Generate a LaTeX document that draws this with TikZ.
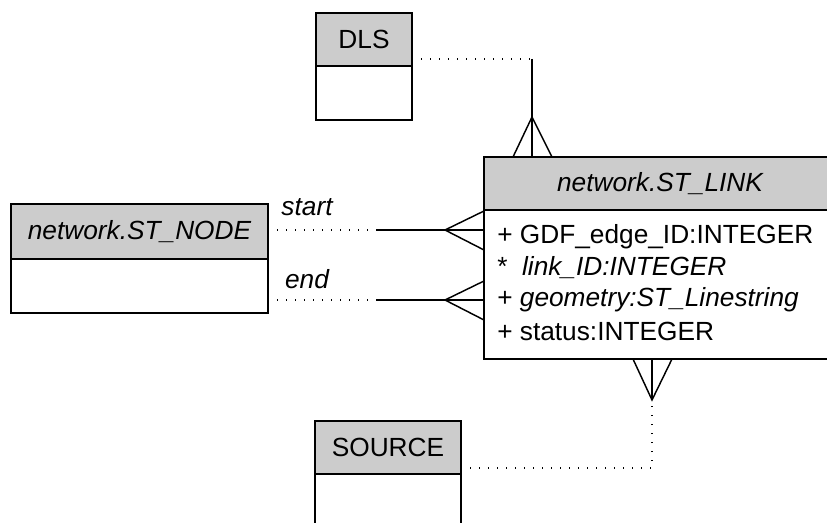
\documentclass[tikz,border=0pt]{standalone}
\usepackage{fontspec}
\setmainfont{Liberation Sans}
\begin{document}
\begin{tikzpicture}[x=0.75pt,y=-0.75pt,
  every node/.style={font=\fontsize{19.7}{23}\selectfont},
  hdr/.style={draw=black, line width=1.1pt, fill=hdrgray, inner sep=0pt, outer sep=0pt, anchor=north west},
  bodybox/.style={draw=black, line width=1.1pt, fill=white, inner sep=0pt, outer sep=0pt, anchor=north},
  attr/.style={anchor=west, inner sep=0pt},
  lbl/.style={inner sep=0pt, font=\fontsize{19.7}{23}\selectfont\itshape},
  solidline/.style={line width=1.1pt},
  dotline/.style={line width=1pt, dash pattern=on 0.9pt off 5.85pt}
]
\definecolor{hdrgray}{HTML}{CCCCCC}
\path[use as bounding box, clip] (0,0) rectangle (827,523);

% DLS
\node[hdr, minimum width=96*0.75pt, minimum height=53*0.75pt] (dlsh) at (316,13) {DLS};
\node[bodybox, minimum width=96*0.75pt, minimum height=54*0.75pt] (dlsb) at (dlsh.south) {};

% ST_NODE
\node[hdr, minimum width=257*0.75pt, minimum height=55*0.75pt] (nodeh) at (11,204) {\itshape network.ST\_NODE};
\node[bodybox, minimum width=257*0.75pt, minimum height=54*0.75pt] (nodeb) at (nodeh.south) {};

% ST_LINK
\node[hdr, minimum width=352*0.75pt, minimum height=53*0.75pt] (linkh) at (484,157) {\itshape network.ST\_LINK};
\node[bodybox, minimum width=352*0.75pt, minimum height=149*0.75pt] (linkb) at (linkh.south) {};
\node[attr] (a1) at (497,237) {+ GDF\_edge\_ID:INTEGER};
\node[attr] (a2) at (497,268) {*\ \ \itshape link\_ID:INTEGER};
\node[attr] (a3) at (497,300) {+ \itshape geometry:ST\_Linestring};
\node[attr] (a4) at (497,331) {+ status:INTEGER};

% SOURCE
\node[hdr, minimum width=146*0.75pt, minimum height=53*0.75pt] (srch) at (315,421) {SOURCE};
\node[bodybox, minimum width=146*0.75pt, minimum height=60*0.75pt] (srcb) at (srch.south) {};

% DLS -- LINK
\coordinate (d1) at (532,59);
\coordinate (d2) at (532,117);
\draw[dotline] (dlsh.east |- d1) -- (d1);
\draw[solidline] (d1) -- (linkh.north -| d1);
\draw[solidline] (513,157) -- (d2) -- (552,157);

% start
\coordinate (s0) at (268,230);
\coordinate (s1) at (377,230);
\coordinate (s2) at (445,230);
\node[lbl] (lstart) at (307,207) {start};
\draw[dotline] (s0) -- (s1);
\draw[solidline] (s1) -- (linkb.west |- s1);
\draw[solidline] (484,211) -- (s2) -- (484,250);

% end
\coordinate (e0) at (268,300);
\coordinate (e1) at (377,300);
\coordinate (e2) at (445,300);
\node[lbl] (lend) at (307,279) {end};
\draw[dotline] (e0) -- (e1);
\draw[solidline] (e1) -- (linkb.west |- e1);
\draw[solidline] (484,281) -- (e2) -- (484,320);

% SOURCE -- LINK
\coordinate (r1) at (652,468);
\coordinate (r2) at (652,400);
\draw[dotline] (srch.east |- r1) -- (r1) -- (r2);
\draw[solidline] (r2) -- (linkb.south -| r2);
\draw[solidline] (633,359) -- (r2) -- (672,359);
\end{tikzpicture}
\end{document}
